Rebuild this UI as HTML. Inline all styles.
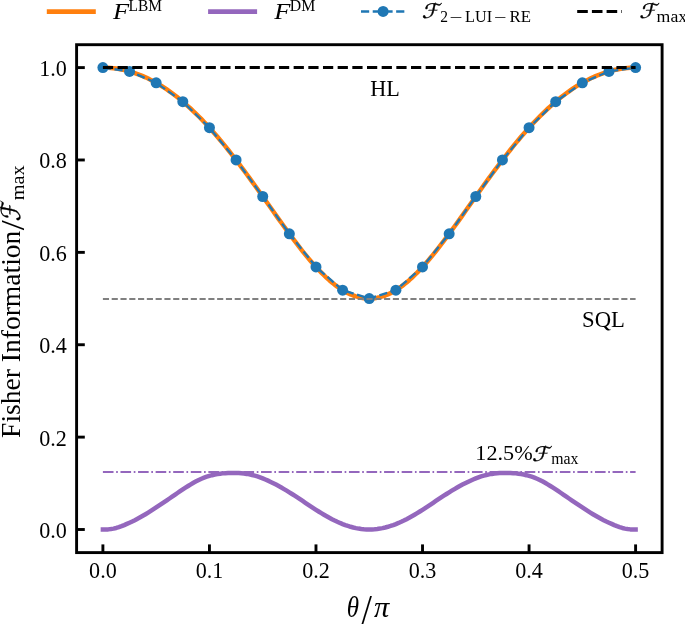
<!DOCTYPE html>
<html><head><meta charset="utf-8"><title>Fisher Information</title>
<style>
html,body{margin:0;padding:0;background:#fff;}
svg{display:block}
text{font-family:"Liberation Serif","DejaVu Serif",serif;fill:#000}
.it{font-style:italic}
.cal{font-family:"DejaVu Sans","DejaVu Serif",sans-serif;font-style:normal;stroke:#000;stroke-width:0.35px}
</style></head><body>
<svg width="685" height="624" viewBox="0 0 685 624">
<rect width="685" height="624" fill="#fff"/>
<path d="M102.90,67.60 L105.56,67.64 L108.23,67.75 L110.89,67.94 L113.55,68.21 L116.22,68.55 L118.88,68.97 L121.54,69.46 L124.21,70.03 L126.87,70.68 L129.54,71.40 L132.20,72.20 L134.86,73.07 L137.53,74.02 L140.19,75.04 L142.85,76.15 L145.52,77.32 L148.18,78.58 L150.84,79.90 L153.51,81.31 L156.17,82.79 L158.83,84.34 L161.50,85.97 L164.16,87.67 L166.82,89.45 L169.49,91.31 L172.15,93.23 L174.81,95.23 L177.48,97.31 L180.14,99.45 L182.81,101.67 L185.47,103.97 L188.13,106.33 L190.80,108.76 L193.46,111.27 L196.12,113.84 L198.79,116.48 L201.45,119.19 L204.11,121.97 L206.78,124.81 L209.44,127.72 L212.10,130.69 L214.77,133.72 L217.43,136.81 L220.09,139.96 L222.76,143.16 L225.42,146.43 L228.08,149.74 L230.75,153.11 L233.41,156.52 L236.08,159.98 L238.74,163.48 L241.40,167.03 L244.07,170.61 L246.73,174.23 L249.39,177.88 L252.06,181.56 L254.72,185.27 L257.38,188.99 L260.05,192.74 L262.71,196.49 L265.37,200.26 L268.04,204.03 L270.70,207.80 L273.36,211.57 L276.03,215.33 L278.69,219.08 L281.35,222.81 L284.02,226.51 L286.68,230.18 L289.35,233.82 L292.01,237.42 L294.67,240.97 L297.34,244.46 L300.00,247.90 L302.66,251.28 L305.33,254.58 L307.99,257.81 L310.65,260.96 L313.32,264.01 L315.98,266.98 L318.64,269.84 L321.31,272.60 L323.97,275.24 L326.63,277.77 L329.30,280.17 L331.96,282.45 L334.62,284.59 L337.29,286.60 L339.95,288.46 L342.62,290.17 L345.28,291.74 L347.94,293.15 L350.61,294.40 L353.27,295.50 L355.93,296.42 L358.60,297.19 L361.26,297.78 L363.92,298.21 L366.59,298.46 L369.25,298.55 L371.91,298.46 L374.58,298.21 L377.24,297.78 L379.90,297.19 L382.57,296.42 L385.23,295.50 L387.89,294.40 L390.56,293.15 L393.22,291.74 L395.89,290.17 L398.55,288.46 L401.21,286.60 L403.88,284.59 L406.54,282.45 L409.20,280.17 L411.87,277.77 L414.53,275.24 L417.19,272.60 L419.86,269.84 L422.52,266.98 L425.18,264.01 L427.85,260.96 L430.51,257.81 L433.17,254.58 L435.84,251.28 L438.50,247.90 L441.16,244.46 L443.83,240.97 L446.49,237.42 L449.16,233.82 L451.82,230.18 L454.48,226.51 L457.15,222.81 L459.81,219.08 L462.47,215.33 L465.14,211.57 L467.80,207.80 L470.46,204.03 L473.13,200.26 L475.79,196.49 L478.45,192.74 L481.12,188.99 L483.78,185.27 L486.44,181.56 L489.11,177.88 L491.77,174.23 L494.43,170.61 L497.10,167.03 L499.76,163.48 L502.43,159.98 L505.09,156.52 L507.75,153.11 L510.42,149.74 L513.08,146.43 L515.74,143.16 L518.41,139.96 L521.07,136.81 L523.73,133.72 L526.40,130.69 L529.06,127.72 L531.72,124.81 L534.39,121.97 L537.05,119.19 L539.71,116.48 L542.38,113.84 L545.04,111.27 L547.70,108.76 L550.37,106.33 L553.03,103.97 L555.70,101.67 L558.36,99.45 L561.02,97.31 L563.69,95.23 L566.35,93.23 L569.01,91.31 L571.68,89.45 L574.34,87.67 L577.00,85.97 L579.67,84.34 L582.33,82.79 L584.99,81.31 L587.66,79.90 L590.32,78.58 L592.98,77.32 L595.65,76.15 L598.31,75.04 L600.97,74.02 L603.64,73.07 L606.30,72.20 L608.97,71.40 L611.63,70.68 L614.29,70.03 L616.96,69.46 L619.62,68.97 L622.28,68.55 L624.95,68.21 L627.61,67.94 L630.27,67.75 L632.94,67.64 L635.60,67.60" fill="none" stroke="#ff7f0e" stroke-width="4.5" stroke-linecap="square" stroke-linejoin="round"/>
<path d="M102.90,529.50 L105.56,529.51 L108.23,529.38 L110.89,529.09 L113.55,528.62 L116.22,527.97 L118.88,527.14 L121.54,526.17 L124.21,525.07 L126.87,523.90 L129.54,522.70 L132.20,521.47 L134.86,520.16 L137.53,518.77 L140.19,517.32 L142.85,515.80 L145.52,514.23 L148.18,512.61 L150.84,510.93 L153.51,509.22 L156.17,507.47 L158.83,505.70 L161.50,503.91 L164.16,502.11 L166.82,500.30 L169.49,498.49 L172.15,496.68 L174.81,494.84 L177.48,493.00 L180.14,491.17 L182.81,489.38 L185.47,487.65 L188.13,485.98 L190.80,484.34 L193.46,482.78 L196.12,481.30 L198.79,479.94 L201.45,478.72 L204.11,477.65 L206.78,476.72 L209.44,475.90 L212.10,475.19 L214.77,474.56 L217.43,474.04 L220.09,473.65 L222.76,473.37 L225.42,473.17 L228.08,473.05 L230.75,472.96 L233.41,472.92 L236.08,472.93 L238.74,473.01 L241.40,473.19 L244.07,473.49 L246.73,473.91 L249.39,474.40 L252.06,474.98 L254.72,475.64 L257.38,476.42 L260.05,477.32 L262.71,478.34 L265.37,479.46 L268.04,480.66 L270.70,481.92 L273.36,483.24 L276.03,484.60 L278.69,486.04 L281.35,487.53 L284.02,489.08 L286.68,490.68 L289.35,492.32 L292.01,493.99 L294.67,495.69 L297.34,497.42 L300.00,499.19 L302.66,500.98 L305.33,502.77 L307.99,504.55 L310.65,506.32 L313.32,508.07 L315.98,509.79 L318.64,511.48 L321.31,513.12 L323.97,514.72 L326.63,516.26 L329.30,517.74 L331.96,519.16 L334.62,520.50 L337.29,521.77 L339.95,522.95 L342.62,524.05 L345.28,525.06 L347.94,525.97 L350.61,526.79 L353.27,527.50 L355.93,528.10 L358.60,528.60 L361.26,528.99 L363.92,529.28 L366.59,529.44 L369.25,529.50 L371.91,529.44 L374.58,529.28 L377.24,528.99 L379.90,528.60 L382.57,528.10 L385.23,527.50 L387.89,526.79 L390.56,525.97 L393.22,525.06 L395.89,524.05 L398.55,522.95 L401.21,521.77 L403.88,520.50 L406.54,519.16 L409.20,517.74 L411.87,516.26 L414.53,514.72 L417.19,513.12 L419.86,511.48 L422.52,509.79 L425.18,508.07 L427.85,506.32 L430.51,504.55 L433.17,502.77 L435.84,500.98 L438.50,499.19 L441.16,497.42 L443.83,495.69 L446.49,493.99 L449.16,492.32 L451.82,490.68 L454.48,489.08 L457.15,487.53 L459.81,486.04 L462.47,484.60 L465.14,483.24 L467.80,481.92 L470.46,480.66 L473.13,479.46 L475.79,478.34 L478.45,477.32 L481.12,476.42 L483.78,475.64 L486.44,474.98 L489.11,474.40 L491.77,473.91 L494.43,473.49 L497.10,473.19 L499.76,473.01 L502.43,472.93 L505.09,472.92 L507.75,472.96 L510.42,473.05 L513.08,473.17 L515.74,473.37 L518.41,473.65 L521.07,474.04 L523.73,474.56 L526.40,475.19 L529.06,475.90 L531.72,476.72 L534.39,477.65 L537.05,478.72 L539.71,479.94 L542.38,481.30 L545.04,482.78 L547.70,484.34 L550.37,485.98 L553.03,487.65 L555.70,489.38 L558.36,491.17 L561.02,493.00 L563.69,494.84 L566.35,496.68 L569.01,498.49 L571.68,500.30 L574.34,502.11 L577.00,503.91 L579.67,505.70 L582.33,507.47 L584.99,509.22 L587.66,510.93 L590.32,512.61 L592.98,514.23 L595.65,515.80 L598.31,517.32 L600.97,518.77 L603.64,520.16 L606.30,521.47 L608.97,522.70 L611.63,523.90 L614.29,525.07 L616.96,526.17 L619.62,527.14 L622.28,527.97 L624.95,528.62 L627.61,529.09 L630.27,529.38 L632.94,529.51 L635.60,529.50" fill="none" stroke="#9467bd" stroke-width="4.5" stroke-linecap="square" stroke-linejoin="round"/>
<path d="M102.90,67.60 L129.54,71.40 L156.17,82.79 L182.81,101.67 L209.44,127.72 L236.08,159.98 L262.71,196.49 L289.35,233.82 L315.98,266.98 L342.62,290.17 L369.25,298.55 L395.89,290.17 L422.52,266.98 L449.16,233.82 L475.79,196.49 L502.43,159.98 L529.06,127.72 L555.70,101.67 L582.33,82.79 L608.97,71.40 L635.60,67.60" fill="none" stroke="#1f77b4" stroke-width="2.3" stroke-dasharray="8.18 3.54" stroke-linejoin="round"/>
<circle cx="102.90" cy="67.60" r="5.5" fill="#1f77b4"/>
<circle cx="129.54" cy="71.40" r="5.5" fill="#1f77b4"/>
<circle cx="156.17" cy="82.79" r="5.5" fill="#1f77b4"/>
<circle cx="182.81" cy="101.67" r="5.5" fill="#1f77b4"/>
<circle cx="209.44" cy="127.72" r="5.5" fill="#1f77b4"/>
<circle cx="236.08" cy="159.98" r="5.5" fill="#1f77b4"/>
<circle cx="262.71" cy="196.49" r="5.5" fill="#1f77b4"/>
<circle cx="289.35" cy="233.82" r="5.5" fill="#1f77b4"/>
<circle cx="315.98" cy="266.98" r="5.5" fill="#1f77b4"/>
<circle cx="342.62" cy="290.17" r="5.5" fill="#1f77b4"/>
<circle cx="369.25" cy="298.55" r="5.5" fill="#1f77b4"/>
<circle cx="395.89" cy="290.17" r="5.5" fill="#1f77b4"/>
<circle cx="422.52" cy="266.98" r="5.5" fill="#1f77b4"/>
<circle cx="449.16" cy="233.82" r="5.5" fill="#1f77b4"/>
<circle cx="475.79" cy="196.49" r="5.5" fill="#1f77b4"/>
<circle cx="502.43" cy="159.98" r="5.5" fill="#1f77b4"/>
<circle cx="529.06" cy="127.72" r="5.5" fill="#1f77b4"/>
<circle cx="555.70" cy="101.67" r="5.5" fill="#1f77b4"/>
<circle cx="582.33" cy="82.79" r="5.5" fill="#1f77b4"/>
<circle cx="608.97" cy="71.40" r="5.5" fill="#1f77b4"/>
<circle cx="635.60" cy="67.60" r="5.5" fill="#1f77b4"/>
<path d="M102.90,67.5 L635.60,67.5" stroke="#000" stroke-width="3" stroke-dasharray="10.24 4.432" fill="none"/>
<path d="M102.90,299 L635.60,299" stroke="#808080" stroke-width="2" stroke-dasharray="6.134 2.652" fill="none"/>
<path d="M102.90,472 L635.60,472" stroke="#9467bd" stroke-width="2" stroke-dasharray="10.61 2.652 1.66 2.652" fill="none"/>
<path d="M102.90,552.6 V544.40" stroke="#000" stroke-width="2.9"/>
<text x="102.90" y="578.4" font-size="22.1" text-anchor="middle">0.0</text>
<path d="M209.44,552.6 V544.40" stroke="#000" stroke-width="2.9"/>
<text x="209.44" y="578.4" font-size="22.1" text-anchor="middle">0.1</text>
<path d="M315.98,552.6 V544.40" stroke="#000" stroke-width="2.9"/>
<text x="315.98" y="578.4" font-size="22.1" text-anchor="middle">0.2</text>
<path d="M422.52,552.6 V544.40" stroke="#000" stroke-width="2.9"/>
<text x="422.52" y="578.4" font-size="22.1" text-anchor="middle">0.3</text>
<path d="M529.06,552.6 V544.40" stroke="#000" stroke-width="2.9"/>
<text x="529.06" y="578.4" font-size="22.1" text-anchor="middle">0.4</text>
<path d="M635.60,552.6 V544.40" stroke="#000" stroke-width="2.9"/>
<text x="635.60" y="578.4" font-size="22.1" text-anchor="middle">0.5</text>
<path d="M76.6,529.50 H84.80" stroke="#000" stroke-width="2.9"/>
<text x="66.8" y="537.90" font-size="22.1" text-anchor="end">0.0</text>
<path d="M76.6,437.12 H84.80" stroke="#000" stroke-width="2.9"/>
<text x="66.8" y="445.52" font-size="22.1" text-anchor="end">0.2</text>
<path d="M76.6,344.74 H84.80" stroke="#000" stroke-width="2.9"/>
<text x="66.8" y="353.14" font-size="22.1" text-anchor="end">0.4</text>
<path d="M76.6,252.36 H84.80" stroke="#000" stroke-width="2.9"/>
<text x="66.8" y="260.76" font-size="22.1" text-anchor="end">0.6</text>
<path d="M76.6,159.98 H84.80" stroke="#000" stroke-width="2.9"/>
<text x="66.8" y="168.38" font-size="22.1" text-anchor="end">0.8</text>
<path d="M76.6,67.60 H84.80" stroke="#000" stroke-width="2.9"/>
<text x="66.8" y="76.00" font-size="22.1" text-anchor="end">1.0</text>
<rect x="76.6" y="44.7" width="585.50" height="507.90" fill="none" stroke="#000" stroke-width="2.9"/>
<text transform="translate(370.30,95.60) scale(1.004,1)" font-size="22.1">HL</text>
<text transform="translate(582.08,327.10) scale(1.017,1)" font-size="22.3">SQL</text>
<text transform="translate(475.37,460.40) scale(1.017,1)" font-size="21.8">12.5%</text>
<text class="cal" transform="translate(531.92,460.80) scale(1.076,1) skewX(-12)" font-size="20.2">ℱ</text>
<text transform="translate(551.20,464.20) scale(0.979,1)" font-size="16.2">max</text>
<text transform="translate(346.82,617.30) scale(0.877,1)" font-size="28.5" font-style="italic">θ</text>
<text transform="translate(361.60,624.30) scale(0.892,1)" font-size="42">/</text>
<text transform="translate(374.00,617.30) scale(1.067,1)" font-size="28.5" font-style="italic">π</text>
<g transform="rotate(-90)">
<text transform="translate(-437.90,19.70) scale(0.998,1)" font-size="27.6">Fisher Information</text>
<text transform="translate(-230.20,24.30) scale(1.060,1)" font-size="34">/</text>
<text class="cal" transform="translate(-221.56,19.90) scale(0.861,1) skewX(-12)" font-size="26.5">ℱ</text>
<text transform="translate(-200.20,23.60) scale(1.052,1)" font-size="19.3">max</text>
</g>
<path d="M46.8,11.6 H95.8" stroke="#ff7f0e" stroke-width="4.6"/>
<text transform="translate(112.90,18.70) scale(1.186,1)" font-size="22.3" font-style="italic">F</text>
<text transform="translate(128.60,10.50) scale(0.982,1)" font-size="15.7">LBM</text>
<path d="M208.1,11.6 H257.1" stroke="#9467bd" stroke-width="4.6"/>
<text transform="translate(274.30,18.70) scale(1.186,1)" font-size="22.3" font-style="italic">F</text>
<text transform="translate(289.80,10.50) scale(1.008,1)" font-size="15.7">DM</text>
<path d="M361,11.5 H405" stroke="#1f77b4" stroke-width="2.3" stroke-dasharray="8.18 3.54"/><circle cx="383.1" cy="11.4" r="5.5" fill="#1f77b4"/>
<text class="cal" transform="translate(421.82,18.30) scale(1.082,1) skewX(-12)" font-size="20.2">ℱ</text>
<text transform="translate(440.20,21.80) scale(0.971,1)" font-size="16">2</text>
<text transform="translate(449.43,22.80) scale(1.471,1)" font-size="15.7">−</text>
<text transform="translate(465.00,21.80) scale(1.023,1)" font-size="15.9">LUI</text>
<text transform="translate(493.89,22.80) scale(1.414,1)" font-size="15.7">−</text>
<text transform="translate(509.60,21.80) scale(1.055,1)" font-size="15.9">RE</text>
<path d="M577.2,11.5 H621.9" stroke="#000" stroke-width="3" stroke-dasharray="10.6 4.1"/>
<text class="cal" transform="translate(639.22,18.30) scale(1.082,1) skewX(-12)" font-size="20.2">ℱ</text>
<text transform="translate(656.60,21.60) scale(1.071,1)" font-size="16.6">max</text>
</svg></body></html>
